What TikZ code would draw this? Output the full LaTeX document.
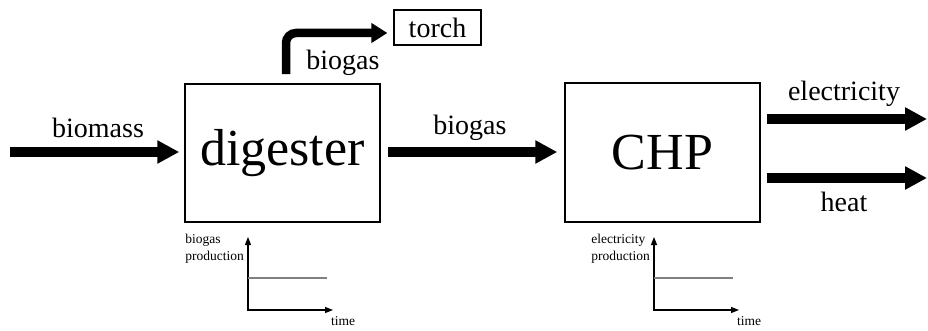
\documentclass[tikz,border=0pt]{standalone}
\usepackage{fontspec}
\setmainfont{Liberation Serif}
\usetikzlibrary{arrows.meta}
\begin{document}
\begin{tikzpicture}[x=1pt,y=-1pt]
\tikzstyle{unit}=[draw,line width=1.5pt,inner sep=0pt,font=\fontsize{52}{56}\selectfont];
\tikzstyle{flow}=[line width=10pt,-{Triangle[length=22pt,width=22pt]}];
\tikzstyle{lab}=[font=\fontsize{28}{30}\selectfont];
\tikzstyle{axis}=[line width=1.3pt,{Triangle[length=8pt,width=6pt]}-{Triangle[length=8pt,width=6pt]}];
\tikzstyle{small}=[font=\fontsize{13.5}{16.5}\selectfont,inner sep=0pt];
\useasboundingbox (0,0) rectangle (928,331);
\path (282.5,153) node[unit,minimum width=195pt,minimum height=138pt] (dig) {digester};
\path (662.5,152.5) node[unit,minimum width=195pt,minimum height=139pt] (chp) {CHP};
\path (437.5,27.5) node[draw,line width=1.2pt,inner sep=0pt,minimum width=87pt,minimum height=35pt,lab] (torch) {torch};
\coordinate (src) at (10,152);
\coordinate (el) at (927,119);
\coordinate (ht) at (927,178);
% flows
\draw[flow] (src) -- ([xshift=-5pt]dig.west |- src);
\draw[flow] ([xshift=7pt]dig.east |- src) -- ([xshift=-7pt]chp.west |- src);
\draw[flow] ([xshift=6pt]chp.east |- el) -- (el);
\draw[flow] ([xshift=6pt]chp.east |- ht) -- (ht);
\draw[line width=8.5pt,rounded corners=10pt,-{Triangle[length=16pt,width=19pt]}]
  ([xshift=3.5pt,yshift=9pt]dig.north) |- ([xshift=-6pt,yshift=-5.5pt]torch.west);
% labels
\path (98,128) node[lab] (l1) {biomass};
\path (470,128) node[lab] (l2) {biogas};
\path (343,63) node[lab] (l3) {biogas};
\path (844,94) node[lab] (l4) {electricity};
\path (844,202) node[lab] (l5) {heat};
% production over time
\foreach \x/\q/\n in {248/biogas/pb,654/electricity/pe}{
  \coordinate (\n o) at (\x,310);
  \coordinate (\n y) at (\x,237);
  \coordinate (\n x) at (\x+85,310);
  \draw[axis] (\n y) -- (\n o) -- (\n x);
  \draw[line width=1.3pt,gray] (\x,278) -- (\x+79,278);
  \path (\x-4,249) node[small,anchor=east,align=left] (\n l) {\q\\production};
  \path (\x+83,321) node[small,anchor=west] (\n t) {time};
}
\end{tikzpicture}
\end{document}
